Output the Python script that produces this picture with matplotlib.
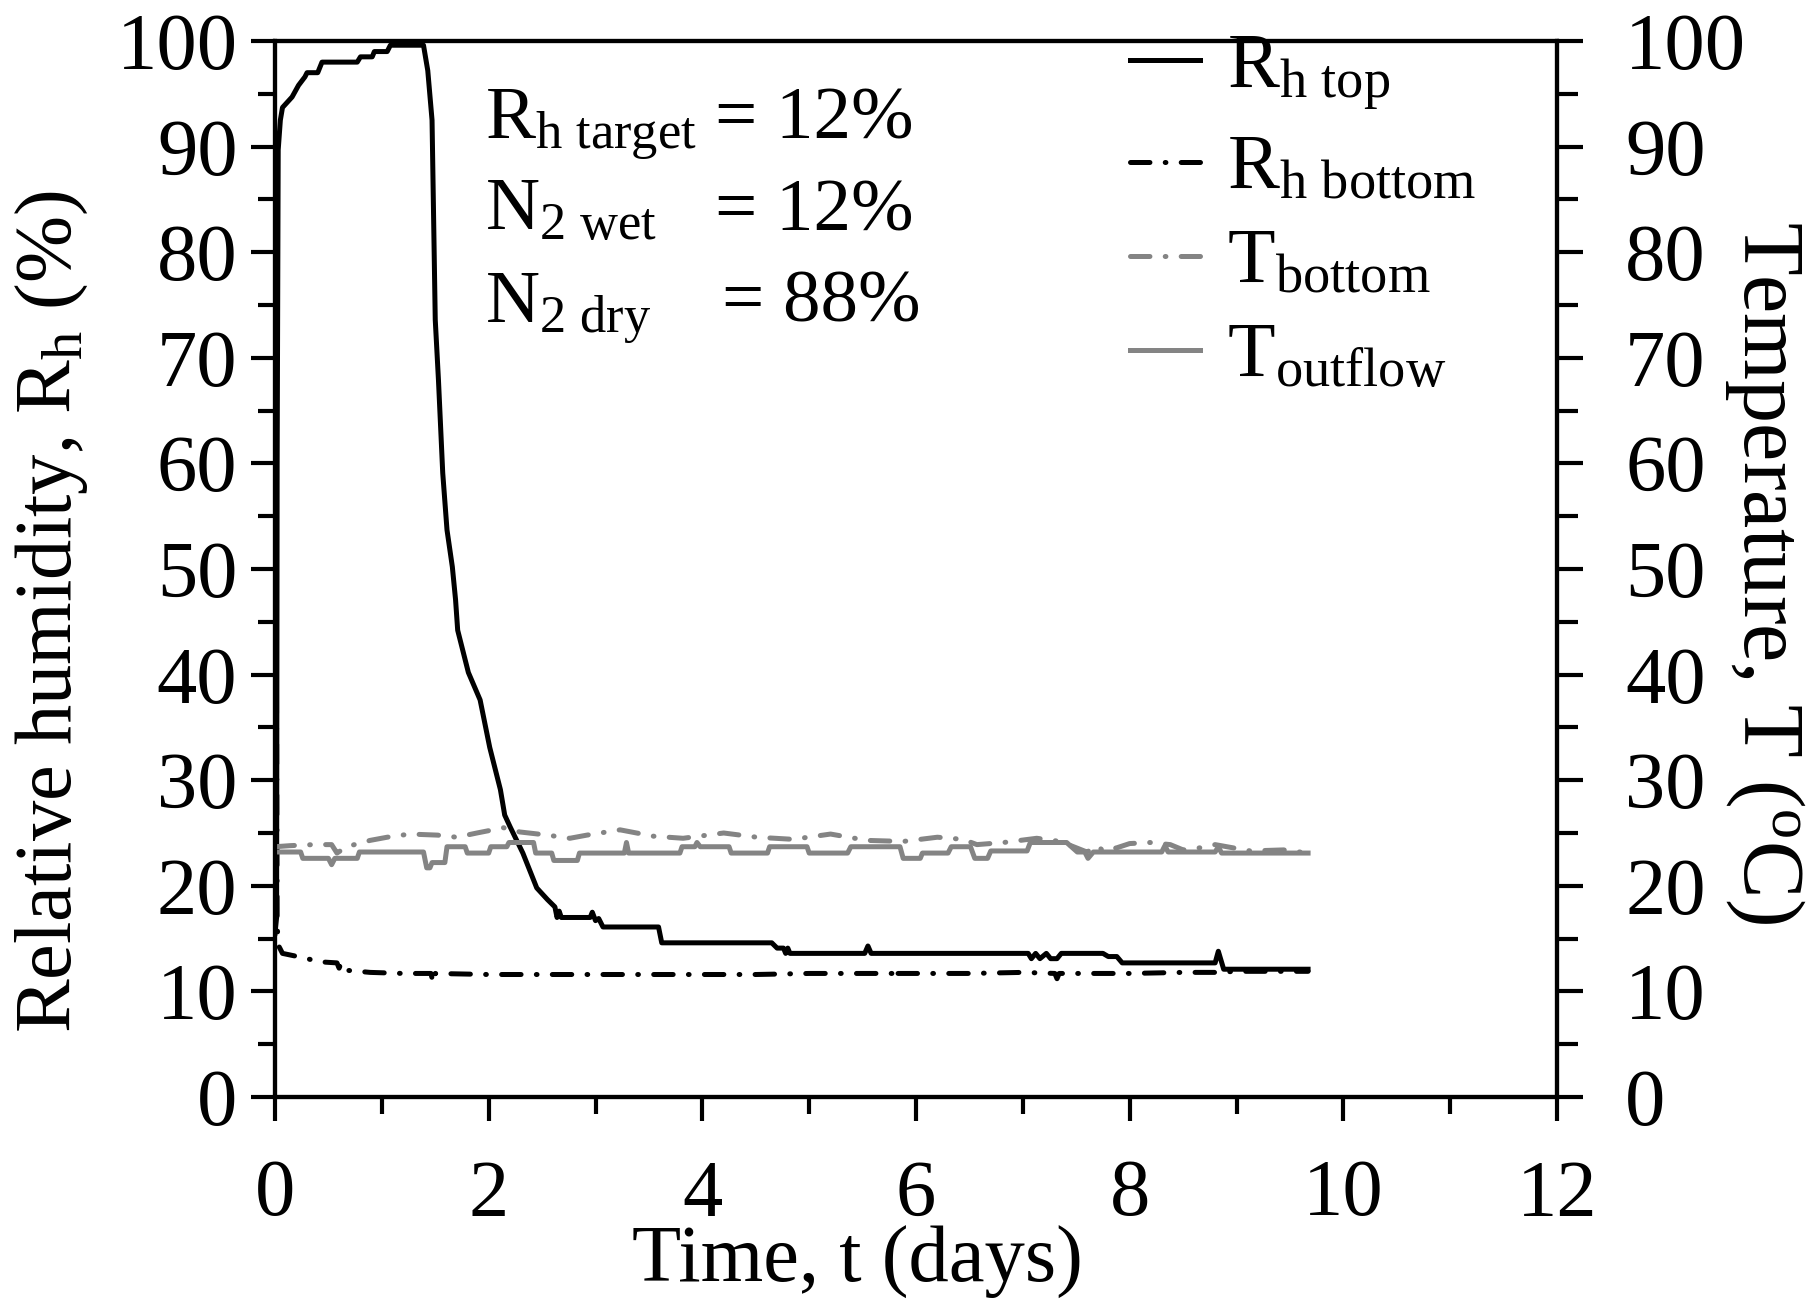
import matplotlib
matplotlib.use("Agg")
import matplotlib.pyplot as plt
from matplotlib.ticker import MultipleLocator

plt.rcParams['font.family'] = ['Liberation Serif', 'DejaVu Serif']
plt.rcParams['mathtext.fontset'] = 'custom'
plt.rcParams['mathtext.rm'] = 'Liberation Serif'
plt.rcParams['mathtext.it'] = 'Liberation Serif'
plt.rcParams['mathtext.bf'] = 'Liberation Serif:bold'
plt.rcParams['lines.scale_dashes'] = False

FS = 58
GRAY = '#848484'

# relative humidity at the top of the sample (%)
rh_top_t = [0.00, 0.015, 0.02, 0.03, 0.05, 0.07, 0.16, 0.22, 0.28, 0.30, 0.40, 0.44,
            0.77, 0.80, 0.91, 0.93, 1.05, 1.08, 1.39, 1.43, 1.47, 1.50, 1.53, 1.57,
            1.61, 1.66, 1.69, 1.71, 1.81, 1.92, 2.01, 2.11, 2.15, 2.20, 2.32, 2.45,
            2.55, 2.62, 2.64, 2.66, 2.68, 2.95, 2.97, 3.00, 3.03, 3.07, 3.59, 3.62,
            4.65, 4.70, 4.76, 4.78, 4.80, 4.82, 5.52, 5.55, 5.58, 7.05, 7.08, 7.12,
            7.16, 7.22, 7.26, 7.32, 7.36, 7.75, 7.80, 7.88, 7.93, 8.80, 8.83, 8.88,
            9.67]
rh_top = [15.5, 17.0, 60.0, 89.7, 92.5, 93.7, 94.7, 95.8, 96.6, 97.0, 97.0, 98.0,
          98.0, 98.5, 98.5, 99.0, 99.0, 99.6, 99.6, 97.2, 92.5, 73.6, 67.9, 59.1,
          53.7, 50.2, 47.1, 44.2, 40.2, 37.6, 33.1, 29.1, 26.7, 25.6, 23.1, 19.8,
          18.7, 18.0, 17.0, 17.6, 17.0, 17.0, 17.5, 16.7, 16.9, 16.1, 16.1, 14.6,
          14.6, 14.1, 14.1, 13.6, 14.1, 13.6, 13.6, 14.3, 13.6, 13.6, 13.1, 13.6,
          13.1, 13.6, 13.1, 13.1, 13.6, 13.6, 13.3, 13.3, 12.7, 12.7, 13.8, 12.1,
          12.1]

# relative humidity at the bottom (%)
rh_bot_t = [0.00, 0.02, 0.04, 0.07, 0.26, 0.42, 0.58, 0.60, 0.62, 0.67, 0.89, 1.20,
            1.46, 1.48, 1.50, 2.00, 2.50, 3.00, 3.50, 4.00, 4.50, 5.00, 5.50, 5.78,
            5.80, 5.82, 6.50, 7.00, 7.30, 7.32, 7.34, 8.00, 8.50, 8.80, 9.00, 9.67]
rh_bot = [91.0, 16.0, 14.2, 13.6, 13.2, 12.8, 12.7, 12.2, 12.7, 12.0, 11.8, 11.7,
          11.7, 10.8, 11.7, 11.6, 11.6, 11.6, 11.6, 11.6, 11.6, 11.7, 11.7, 11.7,
          12.3, 11.7, 11.7, 11.8, 11.7, 11.2, 11.7, 11.7, 11.8, 11.8, 11.9, 11.9]

# temperature at the bottom (C)
t_bot_t = [0.00, 0.14, 0.36, 0.53, 0.58, 0.67, 0.89, 1.05, 1.26, 1.52, 1.70, 1.89,
           2.14, 2.29, 2.55, 2.76, 2.92, 3.23, 3.54, 3.82, 4.20, 4.51, 4.85, 5.20,
           5.54, 5.88, 6.20, 6.44, 6.57, 6.82, 7.13, 7.35, 7.60, 7.70, 7.75, 7.88,
           8.00, 8.19, 8.38, 8.50, 8.66, 8.80, 9.13, 9.44, 9.67]
t_bot = [23.7, 23.8, 23.9, 23.9, 23.1, 23.7, 24.3, 24.6, 24.9, 24.8, 24.6, 25.0,
         25.5, 25.1, 24.8, 24.5, 24.8, 25.3, 24.7, 24.5, 25.0, 24.6, 24.4, 24.9,
         24.3, 24.2, 24.6, 24.4, 23.9, 24.1, 24.5, 24.2, 23.2, 23.8, 23.3, 23.6,
         24.0, 24.1, 23.9, 23.4, 23.6, 23.9, 23.3, 23.4, 23.1]

# temperature of the outflow (C)
t_out_t = [0.00, 0.24, 0.26, 0.50, 0.53, 0.56, 0.77, 0.79, 1.39, 1.42, 1.45, 1.47,
           1.59, 1.61, 1.78, 1.80, 2.00, 2.02, 2.17, 2.19, 2.42, 2.44, 2.59, 2.61,
           2.83, 2.85, 3.27, 3.29, 3.31, 3.79, 3.81, 3.93, 3.95, 3.98, 4.25, 4.27,
           4.61, 4.63, 4.98, 5.00, 5.36, 5.39, 5.85, 5.88, 6.04, 6.06, 6.30, 6.33,
           6.51, 6.55, 6.67, 6.70, 7.04, 7.07, 7.41, 7.51, 7.58, 7.61, 7.66, 8.30,
           8.33, 8.36, 8.80, 8.83, 8.86, 9.67]
t_out = [23.2, 23.2, 22.6, 22.6, 22.0, 22.6, 22.6, 23.2, 23.2, 21.7, 21.7, 22.2,
         22.2, 23.7, 23.7, 23.1, 23.1, 23.7, 23.7, 24.1, 24.1, 23.1, 23.1, 22.4,
         22.4, 23.1, 23.1, 24.1, 23.1, 23.1, 23.7, 23.7, 24.1, 23.7, 23.7, 23.1,
         23.1, 23.7, 23.7, 23.1, 23.1, 23.7, 23.7, 22.6, 22.6, 23.1, 23.1, 23.7,
         23.7, 22.6, 22.6, 23.3, 23.3, 24.1, 24.1, 23.2, 23.2, 22.6, 23.2, 23.2,
         23.8, 23.2, 23.2, 23.7, 23.1, 23.1]

W, H = 1812, 1299
fig = plt.figure(figsize=(W / 100, H / 100), dpi=100)
ax = fig.add_axes([275 / W, 1 - 1097 / H, (1557 - 275) / W, (1097 - 41) / H])
ax2 = ax.twinx()

dashdot = (0, (14, 11, 0.5, 11))
l1, = ax.plot(rh_top_t, rh_top, color='black', lw=3.6, solid_joinstyle='round')
l2, = ax.plot(rh_bot_t, rh_bot, color='black', lw=3.6, linestyle=dashdot,
              dash_capstyle='round')
l3, = ax2.plot(t_bot_t, t_bot, color=GRAY, lw=3.6, linestyle=dashdot,
               dash_capstyle='round')
l4, = ax2.plot(t_out_t, t_out, color=GRAY, lw=3.6, solid_joinstyle='round')

for a in (ax, ax2):
    a.set_xlim(0, 12)
    a.set_ylim(0, 100)
    for s in a.spines.values():
        s.set_linewidth(3.0)

ax.xaxis.set_major_locator(MultipleLocator(2))
ax.xaxis.set_minor_locator(MultipleLocator(1))
ax.yaxis.set_major_locator(MultipleLocator(10))
ax.yaxis.set_minor_locator(MultipleLocator(5))
ax2.yaxis.set_major_locator(MultipleLocator(10))
ax2.yaxis.set_minor_locator(MultipleLocator(5))

ax.tick_params(axis='both', which='both', direction='out', width=3.0, labelsize=FS)
ax.tick_params(axis='both', which='major', length=17)
ax.tick_params(axis='both', which='minor', length=12.5)
ax.tick_params(axis='x', which='major', pad=28)
ax.tick_params(axis='y', which='major', pad=10)
ax.tick_params(top=False, right=False, which='both')
ax2.tick_params(axis='y', which='both', direction='out', width=3.0, labelsize=FS)
ax2.tick_params(axis='y', which='major', length=19, pad=30)
ax2.tick_params(axis='y', which='minor', length=15)

fig.text(52 / W, 1 - 612 / H, r'Relative humidity, R$_\mathrm{h}$ (%)', fontsize=FS,
         rotation=90, ha='center', va='center')
fig.text(1765 / W, 1 - 572 / H, r'Temperature, T ($^\mathrm{o}$C)', fontsize=62,
         rotation=270, ha='center', va='center')
fig.text(857 / W, 1 - 1262 / H, 'Time, t (days)', fontsize=FS, ha='center', va='center')

AFS = 54
ax.text(0.164, 0.908, r'R$_\mathrm{h\ target}$', transform=ax.transAxes, fontsize=AFS,
        va='baseline')
ax.text(0.343, 0.908, r'= 12%', transform=ax.transAxes, fontsize=AFS, va='baseline')
ax.text(0.164, 0.821, r'N$_\mathrm{2\ wet}$', transform=ax.transAxes, fontsize=AFS,
        va='baseline')
ax.text(0.343, 0.821, r'= 12%', transform=ax.transAxes, fontsize=AFS, va='baseline')
ax.text(0.164, 0.734, r'N$_\mathrm{2\ dry}$', transform=ax.transAxes, fontsize=AFS,
        va='baseline')
ax.text(0.349, 0.734, r'= 88%', transform=ax.transAxes, fontsize=AFS, va='baseline')

labels = [r'R$_\mathrm{h\ top}$', r'R$_\mathrm{h\ bottom}$', r'T$_\mathrm{bottom}$',
          r'T$_\mathrm{outflow}$']
ax2.legend([l1, l2, l3, l4], labels, loc='upper left', bbox_to_anchor=(0.667, 1.008),
           frameon=False, fontsize=56, handlelength=0.9, handletextpad=0.35,
           labelspacing=0.29, borderpad=0.0, borderaxespad=0.0)

fig.savefig('out.png', dpi=100)
